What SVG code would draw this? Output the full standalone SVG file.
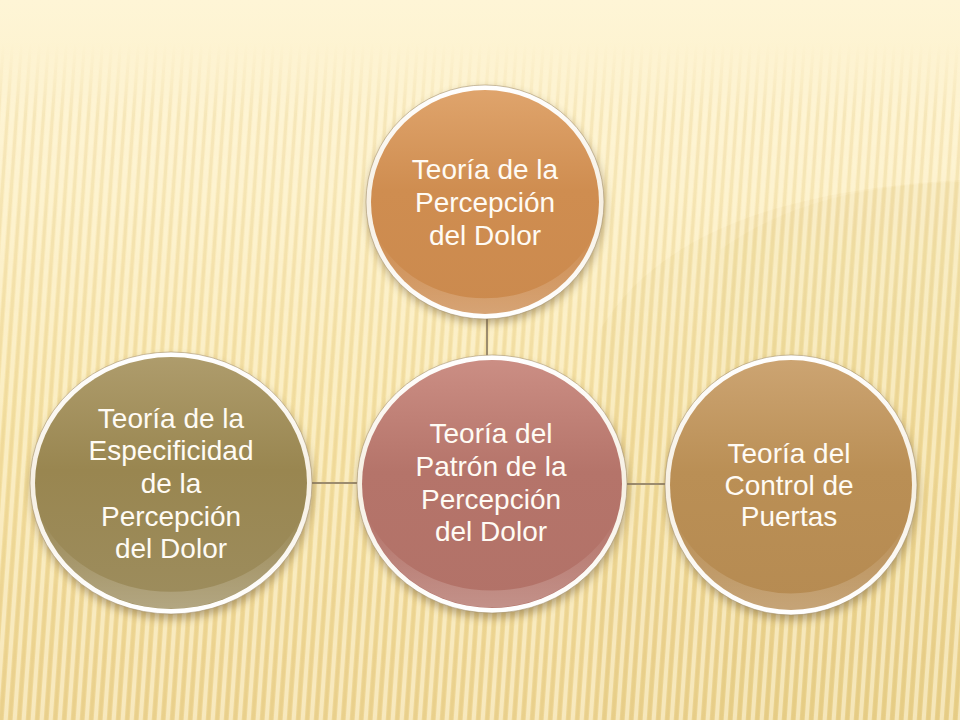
<svg xmlns="http://www.w3.org/2000/svg" width="960" height="720" viewBox="0 0 960 720">
  <defs>
    <linearGradient id="bg" x1="0" y1="0" x2="0" y2="1">
      <stop offset="0" stop-color="#FEF5D6"/>
      <stop offset="0.25" stop-color="#FCEFC6"/>
      <stop offset="0.6" stop-color="#F6E3A8"/>
      <stop offset="1" stop-color="#EED696"/>
    </linearGradient>
    <pattern id="stripes" width="9" height="720" patternUnits="userSpaceOnUse" patternTransform="skewX(-4)">
      <rect x="0" y="0" width="4" height="720" fill="#FFF8DC" opacity="0.55"/>
      <rect x="5" y="0" width="3" height="720" fill="#D9BC6A" opacity="0.22"/>
    </pattern>
    <linearGradient id="fadeIn" x1="0" y1="0" x2="0" y2="1">
      <stop offset="0" stop-color="#fff" stop-opacity="0"/>
      <stop offset="0.06" stop-color="#fff" stop-opacity="0"/>
      <stop offset="0.16" stop-color="#fff" stop-opacity="0.8"/>
      <stop offset="1" stop-color="#fff" stop-opacity="1"/>
    </linearGradient>
    <mask id="stripeMask">
      <rect width="960" height="720" fill="url(#fadeIn)"/>
    </mask>
    <linearGradient id="ring" x1="0" y1="0" x2="0" y2="1">
      <stop offset="0" stop-color="#FFFFFF"/>
      <stop offset="0.5" stop-color="#F6EFE2"/>
      <stop offset="1" stop-color="#FFFFFF"/>
    </linearGradient>
    <linearGradient id="gTop" x1="0" y1="0" x2="0" y2="1">
      <stop offset="0" stop-color="#DFA46C"/>
      <stop offset="0.45" stop-color="#CF8D50"/>
      <stop offset="1" stop-color="#CB8A4E"/>
    </linearGradient>
    <linearGradient id="gCenter" x1="0" y1="0" x2="0" y2="1">
      <stop offset="0" stop-color="#CB8E84"/>
      <stop offset="0.45" stop-color="#B5746A"/>
      <stop offset="1" stop-color="#B27268"/>
    </linearGradient>
    <linearGradient id="gLeft" x1="0" y1="0" x2="0" y2="1">
      <stop offset="0" stop-color="#AE9C6C"/>
      <stop offset="0.45" stop-color="#998650"/>
      <stop offset="1" stop-color="#9D8D5E"/>
    </linearGradient>
    <linearGradient id="gRight" x1="0" y1="0" x2="0" y2="1">
      <stop offset="0" stop-color="#CCA472"/>
      <stop offset="0.45" stop-color="#BA8F55"/>
      <stop offset="1" stop-color="#B68B52"/>
    </linearGradient>
    <linearGradient id="hl" x1="0" y1="0" x2="0" y2="1">
      <stop offset="0" stop-color="#FFFFFF" stop-opacity="0"/>
      <stop offset="1" stop-color="#FFFFFF" stop-opacity="0.22"/>
    </linearGradient>
    <filter id="shadow" x="-20%" y="-20%" width="140%" height="140%">
      <feGaussianBlur stdDeviation="4"/>
    </filter>
  </defs>
  <style>
    .ring { fill: url(#ring); stroke: #A08C68; stroke-opacity: 0.55; stroke-width: 1; }
    .shadow { fill: #6B5530; opacity: 0.45; filter: url(#shadow); }
    .hl { fill: url(#hl); }
    .label { font-family: "Liberation Sans", Arial, sans-serif; font-size: 28px; fill: #FFFBF4; text-anchor: middle; }
    .conn { stroke: #9C8C6E; stroke-width: 2; fill: none; }
  </style>

  <!-- background -->
  <rect width="960" height="720" fill="url(#bg)"/>
  <path d="M600,720 L600,330 C660,230 790,190 960,180 L960,720 Z" fill="#D9BA68" opacity="0.10"/>
  <path d="M720,720 L720,250 C790,200 870,185 960,182 L960,720 Z" fill="#D9BA68" opacity="0.08"/>
  <rect width="960" height="720" fill="url(#stripes)" mask="url(#stripeMask)"/>

  <!-- connectors -->
  <g id="connectors">
    <line class="conn" x1="487" y1="318" x2="487" y2="357"/>
    <line class="conn" x1="311" y1="483" x2="358" y2="483"/>
    <line class="conn" x1="626" y1="484" x2="666" y2="484"/>
  </g>

  <!-- top node -->
  <g id="node-top">
    <ellipse class="shadow" cx="486" cy="206" rx="119" ry="117"/>
    <ellipse class="ring" cx="485" cy="202" rx="119" ry="117"/>
    <ellipse cx="485" cy="202" rx="114" ry="112" fill="url(#gTop)"/>
    <path class="hl" d="M375,232 A114,112 0 0 0 595,232 A118,104 0 0 1 375,232 Z"/>
    <text class="label" x="485" y="179">Teoría de la</text>
    <text class="label" x="485" y="212">Percepción</text>
    <text class="label" x="485" y="245">del Dolor</text>
  </g>

  <!-- left node -->
  <g id="node-left">
    <ellipse class="shadow" cx="172" cy="488" rx="141" ry="131"/>
    <ellipse class="ring" cx="171" cy="483" rx="141" ry="131"/>
    <ellipse cx="171" cy="483" rx="136" ry="126" fill="url(#gLeft)"/>
    <path class="hl" d="M39,513 A136,126 0 0 0 303,513 A140,118 0 0 1 39,513 Z"/>
    <text class="label" x="171" y="428">Teoría de la</text>
    <text class="label" x="171" y="460">Especificidad</text>
    <text class="label" x="171" y="493">de la</text>
    <text class="label" x="171" y="526">Percepción</text>
    <text class="label" x="171" y="558">del Dolor</text>
  </g>

  <!-- center node -->
  <g id="node-center">
    <ellipse class="shadow" cx="493" cy="489" rx="135" ry="129"/>
    <ellipse class="ring" cx="492" cy="484" rx="135" ry="129"/>
    <ellipse cx="492" cy="484" rx="130" ry="124" fill="url(#gCenter)"/>
    <path class="hl" d="M366,514 A130,124 0 0 0 618,514 A134,116 0 0 1 366,514 Z"/>
    <text class="label" x="491" y="443">Teoría del</text>
    <text class="label" x="491" y="476">Patrón de la</text>
    <text class="label" x="491" y="509">Percepción</text>
    <text class="label" x="491" y="541">del Dolor</text>
  </g>

  <!-- right node -->
  <g id="node-right">
    <ellipse class="shadow" cx="792" cy="490" rx="126" ry="130"/>
    <ellipse class="ring" cx="791" cy="485" rx="126" ry="130"/>
    <ellipse cx="791" cy="485" rx="121" ry="125" fill="url(#gRight)"/>
    <path class="hl" d="M673,515 A121,125 0 0 0 909,515 A125,117 0 0 1 673,515 Z"/>
    <text class="label" x="789" y="463">Teoría del</text>
    <text class="label" x="789" y="495">Control de</text>
    <text class="label" x="789" y="526">Puertas</text>
  </g>
</svg>
